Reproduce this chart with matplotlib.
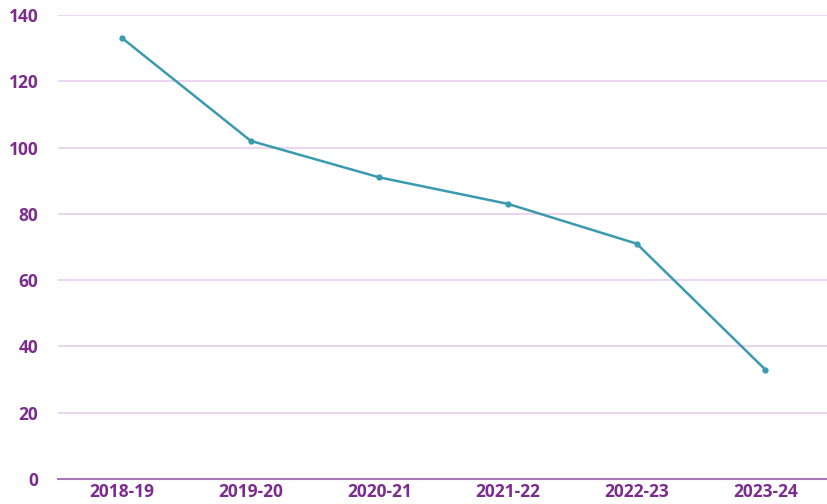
import matplotlib
matplotlib.use("Agg")
import matplotlib.pyplot as plt

years = ["2018-19", "2019-20", "2020-21", "2021-22", "2022-23", "2023-24"]
values = [133, 102, 91, 83, 71, 33]
yticks = [0, 20, 40, 60, 80, 100, 120, 140]

label_color = "#7B2D8E"
line_color = "#3A9BB0"
grid_color = "#E8CDEE"

plt.rcParams["font.family"] = ["Open Sans", "DejaVu Sans"]

fig = plt.figure(figsize=(8.28, 5.04), dpi=100)
ax = fig.add_axes([0.070, 0.0496, 0.932, 0.9206])

x = list(range(len(years)))
ax.plot(x, values, color=line_color, linewidth=1.8, marker="o", markersize=3.5, zorder=3)

ax.set_ylim(0, 140)
ax.set_xlim(-0.5, len(years) - 0.5)
ax.set_yticks(yticks)
ax.set_xticks(x)
ax.set_xticklabels(years)

ax.yaxis.grid(True, color=grid_color, linewidth=1.2)
ax.set_axisbelow(True)
for side in ["top", "right", "left"]:
    ax.spines[side].set_visible(False)
ax.spines["bottom"].set_color("#A878B8")
ax.spines["bottom"].set_linewidth(1.5)

ax.tick_params(axis="both", length=0, labelcolor=label_color, labelsize=12.5)
ax.tick_params(axis="y", pad=14)
ax.tick_params(axis="x", pad=3)
for lbl in ax.get_xticklabels() + ax.get_yticklabels():
    lbl.set_fontweight("bold")

fig.savefig("out.png", dpi=100)
